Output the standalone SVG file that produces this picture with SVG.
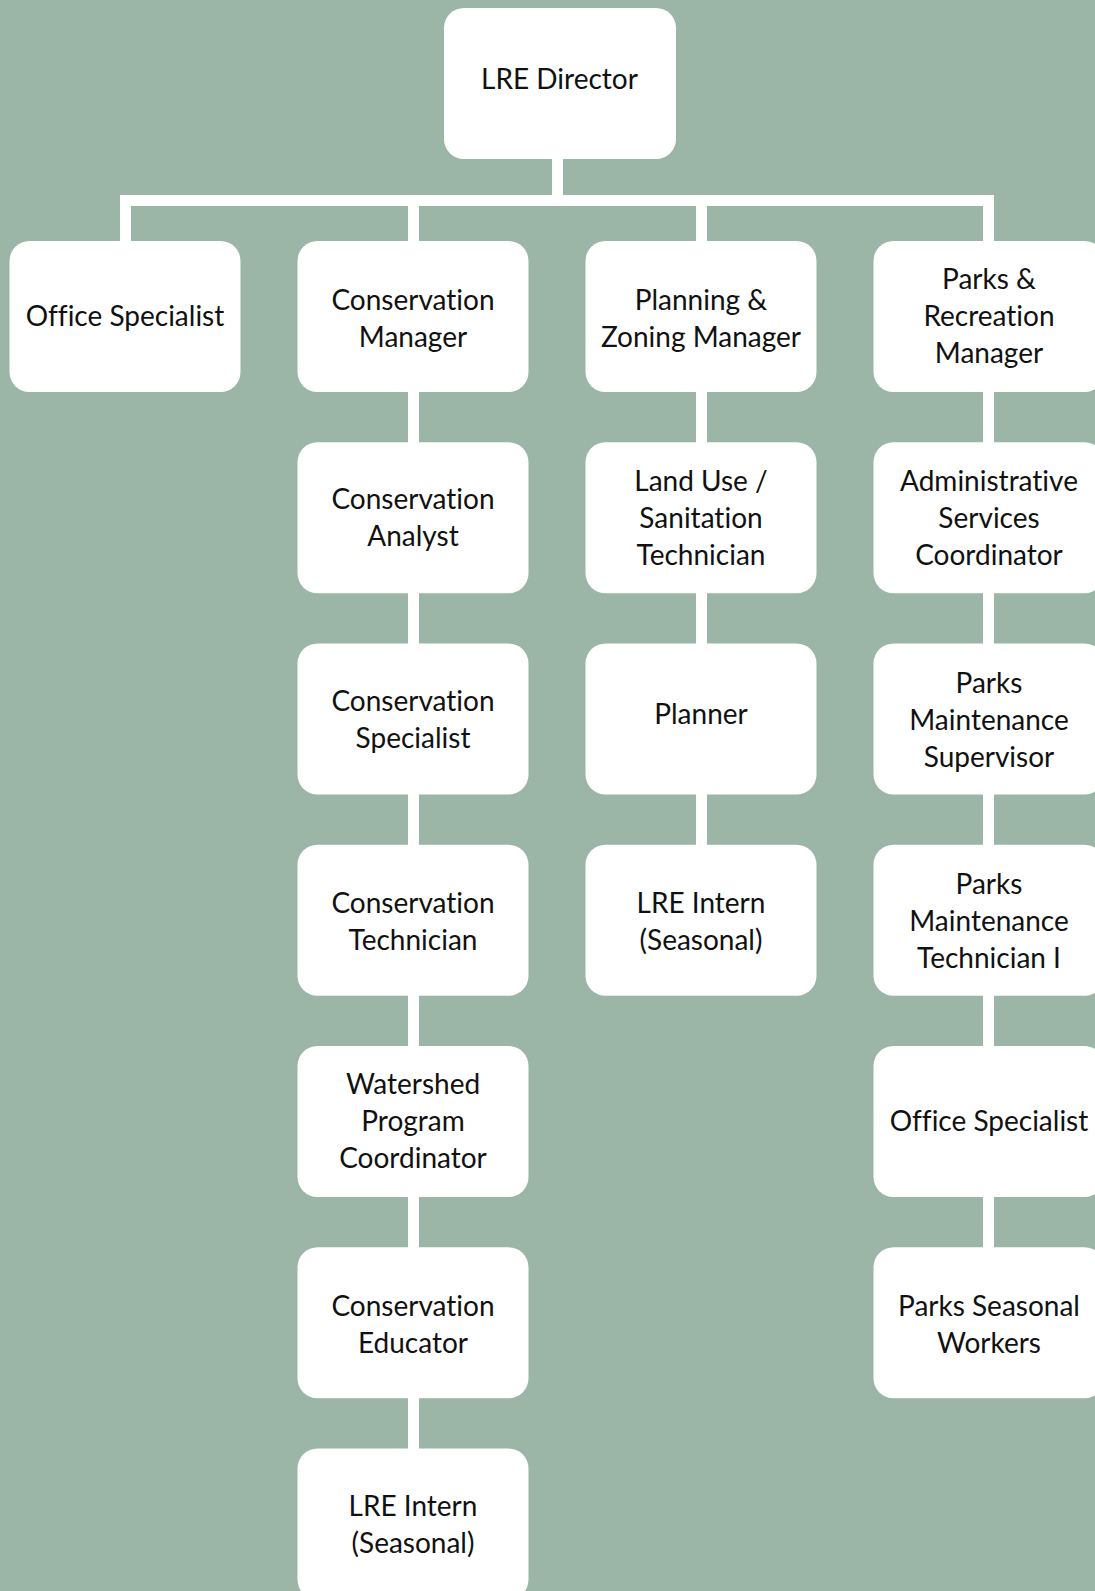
<svg xmlns="http://www.w3.org/2000/svg" width="1095" height="1591" viewBox="0 0 1095 1591">
<style>
.box{fill:#ffffff;}
.t{font-family:Lato,"Liberation Sans",sans-serif;font-size:28px;fill:#111111;text-anchor:middle;font-variant-ligatures:none;font-feature-settings:"liga" 0;}
.c{stroke:#ffffff;stroke-width:11;fill:none;stroke-linecap:butt;}
</style>
<rect x="0" y="0" width="1095" height="1591" fill="#9bb5a7"/>
<g id="connectors">
<line class="c" x1="557.5" y1="155" x2="557.5" y2="200.5"/>
<line class="c" x1="120" y1="200.5" x2="994" y2="200.5"/>
<line class="c" x1="125.5" y1="195" x2="125.5" y2="245"/>
<line class="c" x1="413.5" y1="195" x2="413.5" y2="1452"/>
<line class="c" x1="701.5" y1="195" x2="701.5" y2="850"/>
<line class="c" x1="988.5" y1="195" x2="988.5" y2="1252"/>
</g>
<g id="n-director"><rect class="box" x="444" y="8" width="232" height="151" rx="20"/><text class="t" x="559.5" y="89">LRE Director</text></g>
<g id="n-office1"><rect class="box" x="9.5" y="241" width="231" height="151" rx="20"/><text class="t" x="125" y="326">Office Specialist</text></g>
<g id="n-consmgr"><rect class="box" x="297.5" y="241" width="231" height="151" rx="20"/><text class="t" x="413" y="310">Conservation</text><text class="t" x="413" y="347">Manager</text></g>
<g id="n-planmgr"><rect class="box" x="585.5" y="241" width="231" height="151" rx="20"/><text class="t" x="701" y="310">Planning &amp;</text><text class="t" x="701" y="347">Zoning Manager</text></g>
<g id="n-parksmgr"><rect class="box" x="873.5" y="241" width="231" height="151" rx="20"/><text class="t" x="989" y="289">Parks &amp;</text><text class="t" x="989" y="326">Recreation</text><text class="t" x="989" y="363">Manager</text></g>
<g id="n-consanalyst"><rect class="box" x="297.5" y="442.25" width="231" height="151" rx="20"/><text class="t" x="413" y="508.5">Conservation</text><text class="t" x="413" y="545.5">Analyst</text></g>
<g id="n-landuse"><rect class="box" x="585.5" y="442.25" width="231" height="151" rx="20"/><text class="t" x="701" y="490.5">Land Use /</text><text class="t" x="701" y="527.5">Sanitation</text><text class="t" x="701" y="564.5">Technician</text></g>
<g id="n-admin"><rect class="box" x="873.5" y="442.25" width="231" height="151" rx="20"/><text class="t" x="989" y="490.5">Administrative</text><text class="t" x="989" y="527.5">Services</text><text class="t" x="989" y="564.5">Coordinator</text></g>
<g id="n-consspec"><rect class="box" x="297.5" y="643.5" width="231" height="151" rx="20"/><text class="t" x="413" y="711">Conservation</text><text class="t" x="413" y="748">Specialist</text></g>
<g id="n-planner"><rect class="box" x="585.5" y="643.5" width="231" height="151" rx="20"/><text class="t" x="701" y="723.5">Planner</text></g>
<g id="n-parkssup"><rect class="box" x="873.5" y="643.5" width="231" height="151" rx="20"/><text class="t" x="989" y="692.5">Parks</text><text class="t" x="989" y="729.5">Maintenance</text><text class="t" x="989" y="766.5">Supervisor</text></g>
<g id="n-constech"><rect class="box" x="297.5" y="844.75" width="231" height="151" rx="20"/><text class="t" x="413" y="912.5">Conservation</text><text class="t" x="413" y="949.5">Technician</text></g>
<g id="n-intern2"><rect class="box" x="585.5" y="844.75" width="231" height="151" rx="20"/><text class="t" x="701" y="912.5">LRE Intern</text><text class="t" x="701" y="949.5">(Seasonal)</text></g>
<g id="n-parkstech"><rect class="box" x="873.5" y="844.75" width="231" height="151" rx="20"/><text class="t" x="989" y="894">Parks</text><text class="t" x="989" y="931">Maintenance</text><text class="t" x="989" y="968">Technician I</text></g>
<g id="n-watershed"><rect class="box" x="297.5" y="1046" width="231" height="151" rx="20"/><text class="t" x="413" y="1094">Watershed</text><text class="t" x="413" y="1131">Program</text><text class="t" x="413" y="1168">Coordinator</text></g>
<g id="n-office2"><rect class="box" x="873.5" y="1046" width="231" height="151" rx="20"/><text class="t" x="989" y="1131">Office Specialist</text></g>
<g id="n-consedu"><rect class="box" x="297.5" y="1247.25" width="231" height="151" rx="20"/><text class="t" x="413" y="1316">Conservation</text><text class="t" x="413" y="1353">Educator</text></g>
<g id="n-seasonal"><rect class="box" x="873.5" y="1247.25" width="231" height="151" rx="20"/><text class="t" x="989" y="1316">Parks Seasonal</text><text class="t" x="989" y="1353">Workers</text></g>
<g id="n-intern1"><rect class="box" x="297.5" y="1448.5" width="231" height="151" rx="20"/><text class="t" x="413" y="1516">LRE Intern</text><text class="t" x="413" y="1553">(Seasonal)</text></g>
</svg>
